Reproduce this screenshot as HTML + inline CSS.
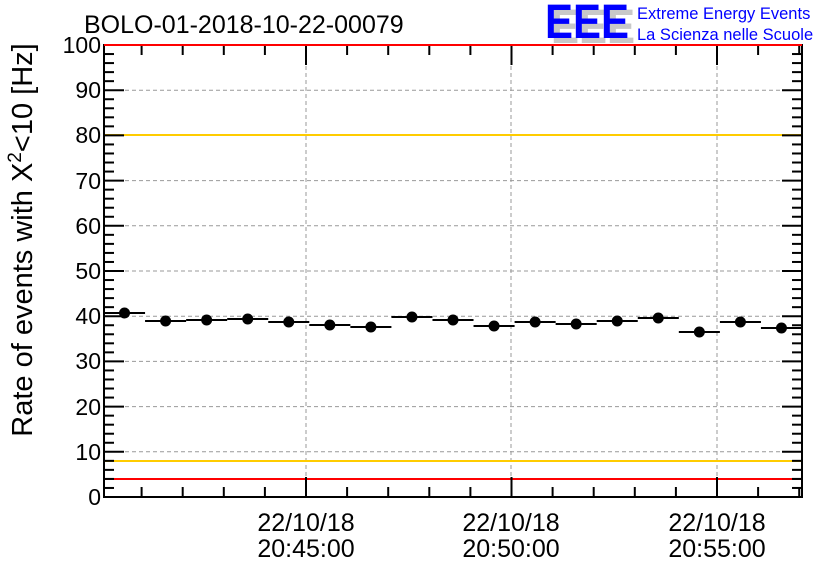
<!DOCTYPE html>
<html><head><meta charset="utf-8"><style>
body{margin:0;background:#fff;}
svg{display:block;font-family:"Liberation Sans",Arial,sans-serif;}
</style></head><body>
<svg id="s" width="836" height="572" xmlns="http://www.w3.org/2000/svg">
<rect width="836" height="572" fill="#fff"/>
<g id="grid" stroke="#999" stroke-width="1" stroke-dasharray="4,3"></g>
<line x1="104" x2="802" y1="135" y2="135" stroke="#ffcc00" stroke-width="2"/>
<line x1="104" x2="802" y1="461" y2="461" stroke="#ffcc00" stroke-width="2"/>
<line x1="104" x2="802" y1="479" y2="479" stroke="#ff0000" stroke-width="2"/>
<g id="ticks" stroke="#000" stroke-width="2"></g>
<rect x="104" y="45" width="698" height="452" fill="none" stroke="#000" stroke-width="2"/>
<line x1="104" x2="802" y1="45" y2="45" stroke="#ff0000" stroke-width="2"/>
<g id="data" stroke="#000" stroke-width="2"></g>
<g font-size="23" text-anchor="end" fill="#000">
<text x="101" y="505">0</text><text x="101" y="460">10</text><text x="101" y="415">20</text>
<text x="101" y="369">30</text><text x="101" y="324">40</text><text x="101" y="279">50</text>
<text x="101" y="234">60</text><text x="101" y="189">70</text><text x="101" y="143">80</text>
<text x="101" y="98">90</text><text x="101" y="53">100</text>
</g>
<g font-size="25" text-anchor="middle" fill="#000">
<text x="306" y="531">22/10/18</text><text x="306" y="557">20:45:00</text>
<text x="511" y="531">22/10/18</text><text x="511" y="557">20:50:00</text>
<text x="717" y="531">22/10/18</text><text x="717" y="557">20:55:00</text>
</g>
<text x="84" y="33" font-size="25" fill="#000">BOLO-01-2018-10-22-00079</text>
<text transform="translate(32,240) rotate(-90)" font-size="29" text-anchor="middle" fill="#000">Rate of events with X<tspan dy="-11" font-size="19">2</tspan><tspan dy="11">&lt;10 [Hz]</tspan></text>
<g font-size="48" font-weight="bold" fill="#c8c8c8"><text x="551" y="43" textLength="84" lengthAdjust="spacingAndGlyphs">EEE</text></g>
<g font-size="48" font-weight="bold" fill="#0000ff"><text x="545" y="38" textLength="84" lengthAdjust="spacingAndGlyphs">EEE</text></g>
<text x="637" y="19" font-size="16.5" fill="#0000ff">Extreme Energy Events</text>
<text x="637" y="40" font-size="16.5" fill="#0000ff">La Scienza nelle Scuole</text>
</svg>
<script>
var NS="http://www.w3.org/2000/svg";
function L(g,x1,y1,x2,y2){var e=document.createElementNS(NS,"line");e.setAttribute("x1",x1);e.setAttribute("y1",y1);e.setAttribute("x2",x2);e.setAttribute("y2",y2);document.getElementById(g).appendChild(e);}
var yp=function(v){return 497-v*4.52;};
for(var v=10;v<100;v+=10)L("grid",104,yp(v),802,yp(v));
[306,511,717].forEach(function(x){L("grid",x,45,x,497);});
for(var v=0;v<=100;v+=2){var len=(v%10==0)?20:10;L("ticks",104,yp(v),104+len,yp(v));L("ticks",802,yp(v),802-len,yp(v));}
for(var k=-8;k<=13;k++){var x=306+k*41.1;if(x<104||x>802)continue;var len=(k%5==0)?20:10;L("ticks",x,497,x,497-len);L("ticks",x,45,x,45+len);}
var ys=[313,321,320,319,322,325,327,317,320,326,322,324,321,318,332,322,328];
var w=698/17;
ys.forEach(function(y,i){var x0=104+w*i;L("data",x0,y,x0+w,y);var c=document.createElementNS(NS,"circle");c.setAttribute("cx",x0+w/2);c.setAttribute("cy",y);c.setAttribute("r",4.5);c.setAttribute("fill","#000");document.getElementById("data").appendChild(c);});
</script>
</body></html>
